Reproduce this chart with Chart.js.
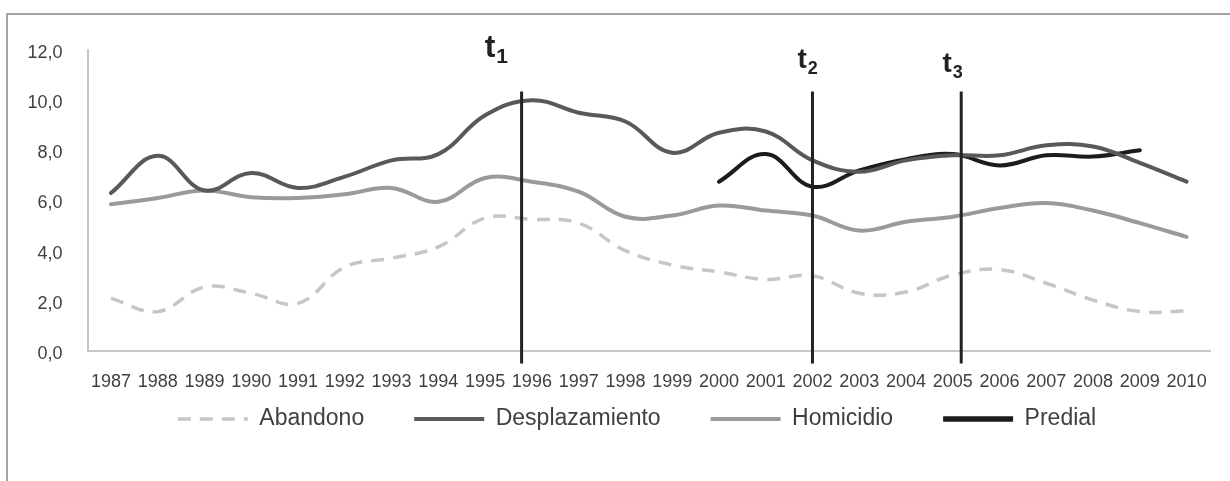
<!DOCTYPE html>
<html>
<head>
<meta charset="utf-8">
<script src="https://cdn.jsdelivr.net/npm/chart.js@4.4.1/dist/chart.umd.min.js"></script>
<style>
  html, body { margin: 0; padding: 0; background: #fff; }
  #wrap { position: relative; width: 1230px; height: 481px; overflow: hidden; }
  #frame { position: absolute; left: 6px; top: 13px; width: 1300px; height: 600px;
           border-top: 2px solid #a4a4a4; border-left: 2px solid #a4a4a4; }
  #myChart { position: absolute; left: 0; top: 0; }
</style>
</head>
<body>
<div id="wrap">
  <div id="frame"></div>
  <canvas id="myChart" width="1230" height="481"></canvas>
</div>
<script>
const years = ["1987","1988","1989","1990","1991","1992","1993","1994","1995","1996","1997","1998",
	"1999","2000","2001","2002","2003","2004","2005","2006","2007","2008","2009","2010"];

const abandono = [2.1, 1.57, 2.55, 2.3, 1.9, 3.35, 3.7, 4.15, 5.3, 5.25, 5.1, 4.0,
	3.43, 3.15, 2.85, 3.0, 2.3, 2.35, 3.03, 3.25, 2.7, 2.03, 1.57, 1.6];

const desplazamiento = [6.3, 7.78, 6.4, 7.1, 6.5, 6.95, 7.6, 7.85, 9.4, 10.0, 9.5, 9.15,
	7.9, 8.7, 8.75, 7.6, 7.15, 7.6, 7.8, 7.8, 8.2, 8.15, 7.5, 6.75];

const homicidio = [5.85, 6.1, 6.4, 6.13, 6.1, 6.25, 6.5, 5.95, 6.9, 6.75, 6.35, 5.35,
	5.4, 5.8, 5.6, 5.4, 4.8, 5.15, 5.35, 5.7, 5.9, 5.6, 5.1, 4.55];

const predial = [null, null, null, null, null, null, null, null, null, null, null, null,
	null, 6.75, 7.85, 6.55, 7.2, 7.65, 7.85, 7.4, 7.8, 7.75, 8.0, null];

const yTickLabels = ["0,0", "2,0", "4,0", "6,0", "8,0", "10,0", "12,0"];

// t1, t2, t3 marks, in category index units (drawn near 1996, 2002, 2005)
const markerNames = ["1", "2", "3"];
const markerPositions = [8.78, 15.0, 18.18];

const markerLabels = [
	{ x: 7.99, y: 11.72, size: 32, sub: 21 },
	{ x: 14.68, y: 11.28, size: 28, sub: 18 },
	{ x: 17.78, y: 11.12, size: 28, sub: 18 },
];

Chart.defaults.font.family = "'Liberation Sans', Arial, sans-serif";
Chart.defaults.color = "#404040";

const markersPlugin = {
	id: "markers",
	afterDatasetsDraw(chart) {
		const { ctx, scales } = chart;
		const x = scales.x, y = scales.y;
		ctx.save();
		ctx.strokeStyle = "#222";
		ctx.lineWidth = 3;
		markerPositions.forEach((p) => {
			const px = x.getPixelForValue(p);
			ctx.beginPath();
			ctx.moveTo(px, y.getPixelForValue(10.35));
			ctx.lineTo(px, y.getPixelForValue(-0.5));
			ctx.stroke();
		});
		ctx.fillStyle = "#222";
		ctx.textBaseline = "alphabetic";
		ctx.textAlign = "left";
		markerLabels.forEach((m, i) => {
			const px = x.getPixelForValue(m.x);
			const py = y.getPixelForValue(m.y);
			ctx.font = "bold " + m.size + "px 'Liberation Sans', Arial";
			ctx.fillText("t", px, py);
			const w = ctx.measureText("t").width;
			ctx.font = "bold " + m.sub + "px 'Liberation Sans', Arial";
			ctx.fillText(markerNames[i], px + w + 1, py + 6);
		});
		ctx.restore();
	},
};

const data = {
	labels: years,
	datasets: [
		{
			label: "Abandono",
			data: abandono,
			borderColor: "#c6c6c6",
			backgroundColor: "#c6c6c6",
			borderWidth: 3.5,
			borderDash: [13, 9],
		},
		{
			label: "Desplazamiento",
			data: desplazamiento,
			borderColor: "#595959",
			backgroundColor: "#595959",
			borderWidth: 4,
			borderCapStyle: "round",
		},
		{
			label: "Homicidio",
			data: homicidio,
			borderColor: "#9a9a9a",
			backgroundColor: "#9a9a9a",
			borderWidth: 4,
			borderCapStyle: "round",
		},
		{
			label: "Predial",
			data: predial,
			borderColor: "#1c1c1c",
			backgroundColor: "#1c1c1c",
			borderWidth: 4,
			borderCapStyle: "round",
		},
	],
};

const config = {
	type: "line",
	data,
	options: {
		responsive: false,
		animation: false,
		devicePixelRatio: 1,
		layout: { padding: { left: 64, right: 20, top: 50, bottom: 40.5 } },
		elements: {
			point: { radius: 0, hoverRadius: 0 },
			line: { tension: 0.4, fill: false },
		},
		scales: {
			x: {
				offset: true,
				grid: { display: false, drawTicks: false },
				border: { display: true, color: "#c8c8c8", width: 2 },
				// mirrored so the labels are not clipped to the thin axis box
				ticks: { font: { size: 18 }, mirror: true, padding: -42, maxRotation: 0, autoSkip: false, color: "#404040" },
				afterFit(scale) { scale.height = 6.5; },
			},
			y: {
				min: 0,
				max: 12,
				grid: { display: false, drawTicks: false },
				border: { display: true, color: "#c8c8c8", width: 2 },
				ticks: {
					stepSize: 2,
					font: { size: 18 },
					mirror: true,
					crossAlign: "far",
					padding: -60,
					labelOffset: 3,
					color: "#404040",
					callback: (v, i) => yTickLabels[i],
				},
				afterFit(scale) { scale.width = 23.6; },
			},
		},
		plugins: {
			legend: {
				position: "bottom",
				labels: {
					usePointStyle: true,
					pointStyle: "line",
					pointStyleWidth: 70,
					padding: 50,
					font: { size: 23 },
					color: "#404040",
					generateLabels(chart) {
						const items = Chart.defaults.plugins.legend.labels.generateLabels(chart);
						return items.map((it) => {
							const ds = chart.data.datasets[it.datasetIndex];
							it.lineDash = ds.borderDash || [];
							it.lineWidth = ds.label === "Predial" ? 5.5 : ds.borderWidth;
							return it;
						});
					},
				},
			},
			tooltip: { enabled: false },
		},
	},
	plugins: [markersPlugin],
};

var myChart = new Chart(document.getElementById("myChart"), config);
</script>
</body>
</html>
